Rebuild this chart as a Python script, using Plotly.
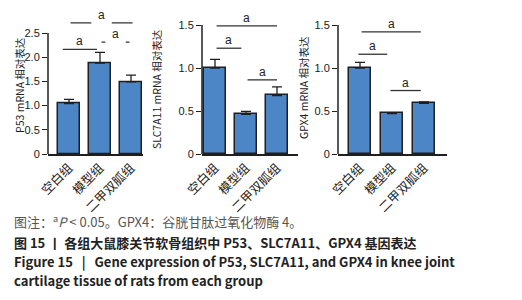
import plotly.graph_objects as go

W, H = 522, 300

groups = ["空白组", "模型组", "二甲双胍组"]
p53_mean = [1.04, 1.88, 1.49]
p53_err = [0.09, 0.22, 0.14]
slc_mean = [1.00, 0.46, 0.68]
slc_err = [0.10, 0.035, 0.10]
gpx_mean = [1.00, 0.47, 0.59]
gpx_err = [0.065, 0.01, 0.015]

titles = ["P53 mRNA 相对表达", "SLC7A11 mRNA 相对表达", "GPX4 mRNA 相对表达"]
ticks1 = [0, 0.5, 1.0, 1.5, 2.0, 2.5]
ticklabels1 = ["0", "0.5", "1.0", "1.5", "2.0", "2.5"]
ticks2 = [0, 0.5, 1.0, 1.5]
ticklabels2 = ["0", "0.5", "1.0", "1.5"]

# significance brackets: (i, j, level)
sig1 = [(0, 2, 2.71), (0, 1, 2.16), (1, 2, 2.31)]
sig2 = [(0, 2, 1.49), (0, 1, 1.23), (1, 2, 0.862)]
sig3 = [(0, 2, 1.42), (0, 1, 1.16), (1, 2, 0.738)]

BLUE = "#4d86c7"
DARK = "#1f1f1f"
FONT = "Noto Sans CJK SC"

panels = [
    dict(mean=p53_mean, err=p53_err, sig=sig1, ticks=ticks1, tl=ticklabels1, top=2.5,
         xpx=(48, 143), c0=69, step=31, ypx0=154, ypxtop=33, ymax=2.95, title_x=19, title_y=85),
    dict(mean=slc_mean, err=slc_err, sig=sig2, ticks=ticks2, tl=ticklabels2, top=1.5,
         xpx=(202, 298), c0=215, step=31, ypx0=154, ypxtop=25, ymax=1.65, title_x=157, title_y=89),
    dict(mean=gpx_mean, err=gpx_err, sig=sig3, ticks=ticks2, tl=ticklabels2, top=1.5,
         xpx=(338, 447), c0=360, step=32, ypx0=154, ypxtop=25, ymax=1.65, title_x=303, title_y=88),
]

# bracket extents (in category units) per panel, and whether the line has a gap for the letter
brk = [
    {(0, 2): (0.05, 2.05, True), (0, 1): (-0.2, 0.9, False), (1, 2): (1.05, 1.95, True)},
    {(0, 2): (0.05, 2.0, False), (0, 1): (0.05, 0.85, False), (1, 2): (1.05, 2.0, False)},
    {(0, 2): (0.05, 1.9, False), (0, 1): (-0.05, 0.85, False), (1, 2): (0.95, 1.9, False)},
]

fig = go.Figure()
shapes = []
annotations = []

for k, p in enumerate(panels):
    n = "" if k == 0 else str(k + 1)
    xa, ya = "x" + n, "y" + n
    ppu = (p["ypx0"] - p["ypxtop"]) / p["top"]
    ytop_px = p["ypx0"] - p["ymax"] * ppu
    xr = [(p["xpx"][0] - p["c0"]) / p["step"], (p["xpx"][1] - p["c0"]) / p["step"]]
    fig.add_trace(go.Bar(
        x=[0, 1, 2], y=p["mean"], width=22 / p["step"],
        marker=dict(color=BLUE, line=dict(color=DARK, width=1.5)),
        error_y=dict(type="data", array=p["err"], arrayminus=[0, 0, 0], symmetric=False,
                     color=DARK, thickness=1.3, width=5),
        xaxis=xa, yaxis=ya, showlegend=False, hoverinfo="skip",
    ))
    fig.update_layout(**{
        ("xaxis" + n): dict(domain=[p["xpx"][0] / W, p["xpx"][1] / W], range=xr,
                            tickvals=[0, 1, 2], ticktext=groups, tickangle=-45,
                            showline=True, linecolor=DARK, linewidth=1.5, ticks="",
                            showgrid=False, zeroline=False, anchor=ya, automargin=False,
                            tickfont=dict(family=FONT, size=12.5, color="#222")),
        ("yaxis" + n): dict(domain=[1 - p["ypx0"] / H, 1 - ytop_px / H], range=[0, p["ymax"]],
                            tickvals=p["ticks"], ticktext=p["tl"], ticks="outside", ticklen=5,
                            tickwidth=1.3, tickcolor=DARK, showline=False, showgrid=False,
                            zeroline=False, anchor=xa, automargin=False,
                            tickfont=dict(family="Liberation Sans", size=11, color="#1a1a1a")),
    })
    shapes.append(dict(type="line", xref=xa + " domain", yref=ya, x0=0, x1=0, y0=0, y1=p["top"],
                       line=dict(color=DARK, width=1.5)))
    annotations.append(dict(text=titles[k], xref="paper", yref="paper", x=p["title_x"] / W,
                            y=1 - p["title_y"] / H, xanchor="center", yanchor="middle",
                            textangle=-90, showarrow=False,
                            font=dict(family=FONT, size=10.5, color="#222")))
    for (i, j, lv) in p["sig"]:
        x0, x1, gap = brk[k][(i, j)]
        mid = (x0 + x1) / 2
        lc = dict(color="#333", width=1.3)
        if gap:
            g = 0.33
            shapes.append(dict(type="line", xref=xa, yref=ya, x0=x0, x1=mid - g, y0=lv, y1=lv, line=lc))
            shapes.append(dict(type="line", xref=xa, yref=ya, x0=mid + g, x1=x1, y0=lv, y1=lv, line=lc))
        else:
            shapes.append(dict(type="line", xref=xa, yref=ya, x0=x0, x1=x1, y0=lv, y1=lv, line=lc))
        annotations.append(dict(text="a", xref=xa, yref=ya, x=mid, y=lv, xanchor="center",
                                yanchor="bottom", yshift=-1, showarrow=False,
                                font=dict(family="Liberation Sans", size=12, color="#222")))

captions = [
    ("图注：<sup>a</sup><i>P</i> &lt; 0.05。GPX4：谷胱甘肽过氧化物酶 4。", 221, "#555"),
    ("<b>图 15 丨 各组大鼠膝关节软骨组织中 P53、SLC7A11、GPX4 基因表达</b>", 242, "#222"),
    ("<b>Figure 15   |   Gene expression of P53, SLC7A11, and GPX4 in knee joint</b>", 261, "#222"),
    ("<b>cartilage tissue of rats from each group</b>", 280, "#222"),
]
for txt, ypx, col in captions:
    annotations.append(dict(text=txt, xref="paper", yref="paper", x=12 / W, y=1 - ypx / H,
                            xanchor="left", yanchor="middle", showarrow=False,
                            font=dict(family=FONT, size=13, color=col)))

fig.update_layout(width=W, height=H, margin=dict(l=0, r=0, t=0, b=0, autoexpand=False),
                  paper_bgcolor="white", plot_bgcolor="white",
                  shapes=shapes, annotations=annotations, bargap=0)

fig.write_html("out.html", config={"displayModeBar": False},
               post_script="document.body.style.margin='0';")
